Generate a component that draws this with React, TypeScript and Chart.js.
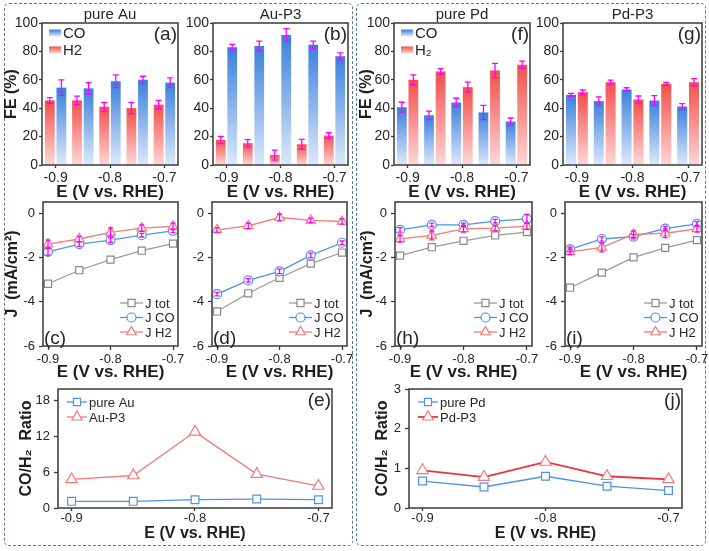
import React, { useEffect, useRef } from 'react';
import { Chart, registerables } from 'chart.js';

Chart.register(...registerables);

const FONT = '"Liberation Sans", Arial, Helvetica, sans-serif';
const AXIS = '#3a3a3a';
const TEXT = '#262626';
Chart.defaults.font.family = FONT;
Chart.defaults.color = TEXT;

// ---------------- data ----------------
const potentials = [-0.9, -0.85, -0.8, -0.75, -0.7];
const potentialLabels = ['-0.9', '-0.85', '-0.8', '-0.75', '-0.7'];
const xMajorLabels = ['-0.9', '-0.8', '-0.7'];
const xMajorTicks = [-0.9, -0.8, -0.7];
const feTicks = [0, 20, 40, 60, 80, 100];
const jTicks = [-6, -4, -2, 0];
const auRatioTicks = [0, 6, 12, 18];
const pdRatioTicks = [0, 1, 2, 3];

// (a) pure Au – Faradaic efficiency (%)
const pureAuCO = [54.5, 54, 59, 60, 58];
const pureAuCOErr = [5.5, 4, 4.5, 2.5, 3.3];
const pureAuH2 = [45.5, 45.5, 41, 40, 42.5];
const pureAuH2Err = [2, 3, 3, 4, 3];
// (b) Au-P3
const auP3CO = [83, 83.8, 91.5, 84.7, 76.5];
const auP3COErr = [2, 3.5, 4.5, 2.5, 2.5];
const auP3H2 = [17.6, 15.3, 7, 14.6, 20.7];
const auP3H2Err = [2.5, 2.5, 3.5, 3.5, 2];
// (f) pure Pd
const purePdCO = [40.7, 35, 44, 37, 30.6];
const purePdCOErr = [3.5, 3, 3, 5, 2.5];
const purePdH2 = [60, 65.9, 54.8, 66.6, 70.6];
const purePdH2Err = [3.5, 2, 3.5, 5, 2.5];
// (g) Pd-P3
const pdP3CO = [49.4, 45, 53.2, 45.4, 41.2];
const pdP3COErr = [1, 3, 1.2, 3.5, 2];
const pdP3H2 = [51.3, 58.3, 46.1, 57.1, 58.3];
const pdP3H2Err = [1.5, 1.5, 2.5, 1, 2.5];

// (c) pure Au – current density (mA/cm2)
const cJtot = [-3.19, -2.58, -2.1, -1.7, -1.38];
const cJco = [-1.75, -1.4, -1.22, -1.0, -0.8];
const cJcoErr = [0.15, 0.1, 0.1, 0.08, 0.08];
const cJh2 = [-1.4, -1.17, -0.87, -0.68, -0.6];
const cJh2Err = [0.18, 0.12, 0.2, 0.15, 0.15];
// (d) Au-P3
const dJtot = [-4.44, -3.62, -2.92, -2.28, -1.78];
const dJco = [-3.66, -3.04, -2.63, -1.91, -1.34];
const dJcoErr = [0.08, 0.08, 0.1, 0.1, 0.08];
const dJh2 = [-0.76, -0.58, -0.2, -0.33, -0.38];
const dJh2Err = [0.1, 0.12, 0.15, 0.1, 0.12];
// (h) pure Pd
const hJtot = [-1.92, -1.54, -1.25, -1.01, -0.86];
const hJco = [-0.76, -0.53, -0.53, -0.36, -0.26];
const hJcoErr = [0.1, 0.08, 0.08, 0.08, 0.2];
const hJh2 = [-1.16, -1.01, -0.71, -0.68, -0.59];
const hJh2Err = [0.15, 0.2, 0.15, 0.12, 0.15];
// (i) Pd-P3
const iJtot = [-3.37, -2.69, -2.0, -1.57, -1.22];
const iJco = [-1.64, -1.17, -1.06, -0.7, -0.49];
const iJcoErr = [0.1, 0.1, 0.1, 0.1, 0.1];
const iJh2 = [-1.75, -1.55, -0.96, -0.91, -0.71];
const iJh2Err = [0.12, 0.2, 0.15, 0.2, 0.15];

// (e) CO/H2 ratio, Au
const pureAuRatio = [1.12, 1.12, 1.4, 1.5, 1.4];
const auP3Ratio = [4.8, 5.46, 12.8, 5.7, 3.7];
// (j) CO/H2 ratio, Pd
const purePdRatio = [0.68, 0.53, 0.8, 0.55, 0.44];
const pdP3Ratio = [0.95, 0.78, 1.16, 0.8, 0.72];

// ---------------- styles ----------------
const CO_DARK = '#3a80dc';
const CO_LIGHT = '#dde9fb';
const H2_DARK = '#f24f4a';
const H2_LIGHT = '#fdd7d7';
const GRAY_LINE = '#9b9b9b';
const GRAY_PT = '#8a8a8a';
const BLUE_LINE = '#4f93e3';
const RED_LINE = '#f27a7a';
const DEEP_RED = '#e8343a';
const ERR = '#ff00ff';

type Geo = { cl: number; ct: number; cr: number; cb: number; L: number; T: number; R: number; B: number };

const xy = (arr: number[]) => potentials.map((x, i) => ({ x, y: arr[i] }));

function barGradient(dark: string, light: string) {
  return (c: any) => {
    const chart = c.chart;
    if (!chart.chartArea || c.raw === undefined || c.raw === null) return dark;
    const ys = chart.scales.y;
    if (!ys) return dark;
    const top = ys.getPixelForValue(c.raw);
    const base = ys.getPixelForValue(0);
    if (!isFinite(top) || !isFinite(base) || Math.abs(base - top) < 1) return dark;
    const g = chart.ctx.createLinearGradient(0, top, 0, base);
    g.addColorStop(0, dark);
    g.addColorStop(1, light);
    return g;
  };
}

const errorBarPlugin = {
  id: 'errbars',
  afterDatasetsDraw(chart: any) {
    const ctx = chart.ctx;
    const ys = chart.scales.y;
    chart.data.datasets.forEach((ds: any, di: number) => {
      if (!ds.errors) return;
      const meta = chart.getDatasetMeta(di);
      ctx.save();
      ctx.strokeStyle = ERR;
      ctx.lineWidth = 1.3;
      meta.data.forEach((el: any, i: number) => {
        const d = ds.data[i];
        const v = typeof d === 'number' ? d : d.y;
        const e = ds.errors[i];
        const x = el.x;
        const y1 = ys.getPixelForValue(v + e);
        const y2 = ys.getPixelForValue(v - e);
        const cap = ds.capWidth ?? 3;
        ctx.beginPath();
        ctx.moveTo(x, y1);
        ctx.lineTo(x, y2);
        ctx.moveTo(x - cap, y1);
        ctx.lineTo(x + cap, y1);
        ctx.moveTo(x - cap, y2);
        ctx.lineTo(x + cap, y2);
        ctx.stroke();
      });
      ctx.restore();
    });
  },
};

function drawMarker(ctx: any, style: string, x: number, y: number, r: number) {
  ctx.beginPath();
  if (style === 'rect') {
    const s = r / Math.SQRT2;
    ctx.rect(x - s, y - s, 2 * s, 2 * s);
  } else if (style === 'circle') {
    ctx.arc(x, y, r, 0, Math.PI * 2);
  } else {
    ctx.moveTo(x, y - r);
    ctx.lineTo(x + 0.866 * r, y + 0.5 * r);
    ctx.lineTo(x - 0.866 * r, y + 0.5 * r);
    ctx.closePath();
  }
  ctx.fill();
  ctx.stroke();
}

type LegendItem = { text: string; color: string; marker: string; markerColor: string; r: number; width: number; dark?: string; light?: string };
type DecorSpec = {
  title?: string;
  label: string;
  labelPos: 'tr' | 'bl';
  legendKind: 'bar' | 'line-br' | 'line-tl' | 'none';
  items: LegendItem[];
};

function decorPlugin(d: DecorSpec) {
  return {
    id: 'decor',
    afterDraw(chart: any) {
      const ctx = chart.ctx;
      const a = chart.chartArea;
      ctx.save();
      // frame
      ctx.strokeStyle = AXIS;
      ctx.lineWidth = 1.5;
      ctx.strokeRect(a.left, a.top, a.right - a.left, a.bottom - a.top);
      ctx.fillStyle = TEXT;
      // title
      if (d.title) {
        ctx.font = `15px ${FONT}`;
        ctx.textAlign = 'center';
        ctx.textBaseline = 'alphabetic';
        ctx.fillText(d.title, (a.left + a.right) / 2, a.top - 4);
      }
      // panel label
      ctx.font = `19px ${FONT}`;
      if (d.labelPos === 'tr') {
        ctx.textAlign = 'right';
        ctx.textBaseline = 'top';
        ctx.fillText(d.label, a.right - 1, a.top + 2);
      } else {
        ctx.textAlign = 'left';
        ctx.textBaseline = 'alphabetic';
        ctx.fillText(d.label, a.left + 1, a.bottom - 2);
      }
      // legend
      if (d.legendKind === 'bar') {
        ctx.font = `15px ${FONT}`;
        ctx.textAlign = 'left';
        ctx.textBaseline = 'middle';
        d.items.forEach((it, k) => {
          const y = a.top + 10 + k * 17;
          const x0 = a.left + 7;
          const g = ctx.createLinearGradient(0, y - 3.5, 0, y + 3.5);
          g.addColorStop(0, it.dark);
          g.addColorStop(1, it.light);
          ctx.fillStyle = g;
          ctx.fillRect(x0, y - 3.5, 12, 7);
          ctx.fillStyle = TEXT;
          ctx.fillText(it.text, a.left + 21, y + 1);
        });
      } else if (d.legendKind !== 'none') {
        const br = d.legendKind === 'line-br';
        ctx.font = `13px ${FONT}`;
        ctx.textAlign = 'left';
        ctx.textBaseline = 'middle';
        d.items.forEach((it, k) => {
          const y = br ? a.bottom - 43 + k * 14.5 : a.top + 13 + k * 15;
          const x0 = br ? a.right - 58 : a.left + 9;
          const len = br ? 23 : 20;
          ctx.strokeStyle = it.color;
          ctx.lineWidth = it.width;
          ctx.beginPath();
          ctx.moveTo(x0, y);
          ctx.lineTo(x0 + len, y);
          ctx.stroke();
          ctx.fillStyle = '#ffffff';
          ctx.strokeStyle = it.markerColor;
          ctx.lineWidth = 1.2;
          drawMarker(ctx, it.marker, x0 + len / 2, y, it.r);
          ctx.fillStyle = TEXT;
          ctx.fillText(it.text, x0 + len + 2, y + 1);
        });
      }
      ctx.restore();
    },
  };
}

function tickGrid() {
  return {
    display: true,
    drawOnChartArea: false,
    drawTicks: true,
    tickLength: 3,
    tickColor: AXIS,
    tickWidth: 1.3,
    color: AXIS,
  };
}

function xTitle(size: number) {
  return { display: true, text: 'E (V vs. RHE)', color: '#1e1e1e', font: { size, weight: 'bold' }, padding: 0 };
}

function yTitle(text?: string) {
  return text
    ? { display: true, text, color: '#1e1e1e', font: { size: 16, weight: 'bold' }, padding: 0 }
    : { display: false };
}

function baseOptions(g: Geo) {
  return {
    responsive: false,
    animation: false,
    events: [],
    layout: { padding: { top: g.T - g.ct, right: g.cr - g.R, left: 0, bottom: 0 } },
    plugins: { legend: { display: false }, tooltip: { enabled: false }, title: { display: false } },
  };
}

type BarSpec = {
  g: Geo; first: 'H2' | 'CO'; co: number[]; coErr: number[]; h2: number[]; h2Err: number[];
  title: string; label: string; h2Text: string; yTitle?: string; legend: boolean;
};

function barConfig(s: BarSpec): any {
  const g = s.g;
  const coDs = {
    label: 'CO', data: s.co, errors: s.coErr, capWidth: 3,
    backgroundColor: barGradient(CO_DARK, CO_LIGHT), borderWidth: 0,
    categoryPercentage: 0.85, barPercentage: 0.85,
  };
  const h2Ds = {
    label: 'H2', data: s.h2, errors: s.h2Err, capWidth: 3,
    backgroundColor: barGradient(H2_DARK, H2_LIGHT), borderWidth: 0,
    categoryPercentage: 0.85, barPercentage: 0.85,
  };
  return {
    type: 'bar',
    data: { labels: potentialLabels, datasets: s.first === 'H2' ? [h2Ds, coDs] : [coDs, h2Ds] },
    options: {
      ...baseOptions(g),
      scales: {
        x: {
          type: 'category', offset: true,
          grid: { ...tickGrid(), offset: false, tickColor: (c: any) => (c.index % 2 === 0 ? AXIS : 'rgba(0,0,0,0)') },
          border: { display: false },
          ticks: {
            autoSkip: false, maxRotation: 0, minRotation: 0, padding: 2, color: TEXT, font: { size: 14 },
            callback: (_v: any, i: number) => (xMajorLabels.includes(potentialLabels[i]) ? potentialLabels[i] : ''),
          },
          title: xTitle(17),
          afterFit: (sc: any) => { sc.height = g.cb - g.B; },
        },
        y: {
          min: 0, max: 100,
          afterBuildTicks: (sc: any) => { sc.ticks = feTicks.map((v) => ({ value: v })); },
          grid: tickGrid(),
          border: { display: false },
          ticks: { padding: 1, color: TEXT, font: { size: 14 }, callback: (v: any) => String(v) },
          title: yTitle(s.yTitle),
          afterFit: (sc: any) => { sc.width = g.L - g.cl; },
        },
      },
    },
    plugins: [errorBarPlugin, decorPlugin({
      title: s.title, label: s.label, labelPos: 'tr', legendKind: s.legend ? 'bar' : 'none',
      items: [
        { text: 'CO', dark: CO_DARK, light: CO_LIGHT, color: '', marker: '', markerColor: '', r: 0, width: 0 },
        { text: s.h2Text, dark: H2_DARK, light: H2_LIGHT, color: '', marker: '', markerColor: '', r: 0, width: 0 },
      ],
    })],
  };
}

type LineSpec = {
  g: Geo; tot: number[]; co: number[]; coErr: number[]; h2: number[]; h2Err: number[]; label: string; yTitle?: string;
};

function lineConfig(s: LineSpec): any {
  const g = s.g;
  return {
    type: 'line',
    data: {
      datasets: [
        { label: 'J H2', data: xy(s.h2), errors: s.h2Err, capWidth: 2.5, borderColor: RED_LINE, borderWidth: 1.3,
          pointStyle: 'triangle', pointRadius: 5.5, pointBorderColor: RED_LINE, pointBackgroundColor: '#ffffff', pointBorderWidth: 1.2 },
        { label: 'J CO', data: xy(s.co), errors: s.coErr, capWidth: 2.5, borderColor: BLUE_LINE, borderWidth: 1.3,
          pointStyle: 'circle', pointRadius: 4.5, pointBorderColor: BLUE_LINE, pointBackgroundColor: '#ffffff', pointBorderWidth: 1.2 },
        { label: 'J tot', data: xy(s.tot), borderColor: GRAY_LINE, borderWidth: 1.3,
          pointStyle: 'rect', pointRadius: 5, pointBorderColor: GRAY_PT, pointBackgroundColor: '#ffffff', pointBorderWidth: 1.2 },
      ],
    },
    options: {
      ...baseOptions(g),
      scales: {
        x: {
          type: 'linear', min: -0.908, max: -0.692,
          afterBuildTicks: (sc: any) => { sc.ticks = xMajorTicks.map((v) => ({ value: v })); },
          grid: { ...tickGrid(), tickLength: 4 },
          border: { display: false },
          ticks: { autoSkip: false, maxRotation: 0, padding: 2, color: TEXT, font: { size: 13 }, callback: (v: any) => Number(v).toFixed(1) },
          title: xTitle(17),
          afterFit: (sc: any) => { sc.height = g.cb - g.B; },
        },
        y: {
          min: -6, max: 0.5,
          afterBuildTicks: (sc: any) => { sc.ticks = jTicks.map((v) => ({ value: v })); },
          grid: { ...tickGrid(), tickLength: 4 },
          border: { display: false },
          ticks: { padding: 4, color: TEXT, font: { size: 13 }, callback: (v: any) => String(v) },
          title: yTitle(s.yTitle),
          afterFit: (sc: any) => { sc.width = g.L - g.cl; },
        },
      },
    },
    plugins: [errorBarPlugin, decorPlugin({
      label: s.label, labelPos: 'bl', legendKind: 'line-br',
      items: [
        { text: 'J tot', color: GRAY_LINE, marker: 'rect', markerColor: GRAY_PT, r: 5, width: 1.3 },
        { text: 'J CO', color: BLUE_LINE, marker: 'circle', markerColor: BLUE_LINE, r: 4.5, width: 1.3 },
        { text: 'J H2', color: RED_LINE, marker: 'triangle', markerColor: RED_LINE, r: 5.5, width: 1.3 },
      ],
    })],
  };
}

type RatioSpec = {
  g: Geo; pure: number[]; p3: number[]; pureText: string; p3Text: string; p3Line: string; p3Width: number;
  max: number; ticks: number[]; label: string;
};

function ratioConfig(s: RatioSpec): any {
  const g = s.g;
  return {
    type: 'line',
    data: {
      datasets: [
        { label: s.pureText, data: xy(s.pure), borderColor: BLUE_LINE, borderWidth: 1.3,
          pointStyle: 'rect', pointRadius: 5.5, pointBorderColor: BLUE_LINE, pointBackgroundColor: '#ffffff', pointBorderWidth: 1.2 },
        { label: s.p3Text, data: xy(s.p3), borderColor: s.p3Line, borderWidth: s.p3Width,
          pointStyle: 'triangle', pointRadius: 6.5, pointBorderColor: RED_LINE, pointBackgroundColor: '#ffffff', pointBorderWidth: 1.2 },
      ],
    },
    options: {
      ...baseOptions(g),
      scales: {
        x: {
          type: 'linear', min: -0.911, max: -0.689,
          afterBuildTicks: (sc: any) => { sc.ticks = xMajorTicks.map((v) => ({ value: v })); },
          grid: tickGrid(),
          border: { display: false },
          ticks: { autoSkip: false, maxRotation: 0, padding: 0, color: TEXT, font: { size: 13 }, callback: (v: any) => Number(v).toFixed(1) },
          title: xTitle(16),
          afterFit: (sc: any) => { sc.height = g.cb - g.B; },
        },
        y: {
          min: 0, max: s.max,
          afterBuildTicks: (sc: any) => { sc.ticks = s.ticks.map((v) => ({ value: v })); },
          grid: { ...tickGrid(), tickLength: 4 },
          border: { display: false },
          ticks: { padding: 4, color: TEXT, font: { size: 13 }, callback: (v: any) => String(v) },
          title: yTitle('CO/H\u2082  Ratio'),
          afterFit: (sc: any) => { sc.width = g.L - g.cl; },
        },
      },
    },
    plugins: [decorPlugin({
      label: s.label, labelPos: 'tr', legendKind: 'line-tl',
      items: [
        { text: s.pureText, color: BLUE_LINE, marker: 'rect', markerColor: BLUE_LINE, r: 5, width: 1.3 },
        { text: s.p3Text, color: s.p3Line, marker: 'triangle', markerColor: RED_LINE, r: 6, width: s.p3Width },
      ],
    })],
  };
}

// ---------------- geometry ----------------
const geoA: Geo = { cl: 2, ct: 0, cr: 190, cb: 203, L: 42, T: 23, R: 178, B: 165 };
const geoB: Geo = { cl: 173, ct: 0, cr: 360, cb: 203, L: 213, T: 23, R: 348, B: 165 };
const geoF: Geo = { cl: 357, ct: 0, cr: 542, cb: 203, L: 394, T: 23, R: 530, B: 165 };
const geoG: Geo = { cl: 523, ct: 0, cr: 714, cb: 203, L: 563, T: 23, R: 702, B: 165 };
const geoC: Geo = { cl: 3, ct: 188, cr: 192, cb: 383, L: 43, T: 202, R: 178, B: 346 };
const geoD: Geo = { cl: 172, ct: 188, cr: 361, cb: 383, L: 212, T: 202, R: 347, B: 346 };
const geoH: Geo = { cl: 358, ct: 188, cr: 546, cb: 383, L: 395, T: 202, R: 532, B: 346 };
const geoI: Geo = { cl: 525, ct: 188, cr: 716, cb: 383, L: 565, T: 202, R: 702, B: 346 };
const geoE: Geo = { cl: 17, ct: 376, cr: 346, cb: 543, L: 58, T: 389, R: 332, B: 508 };
const geoJ: Geo = { cl: 373, ct: 376, cr: 696, cb: 543, L: 409, T: 389, R: 682, B: 508 };

function ChartCanvas({ g, make }: { g: Geo; make: () => any }) {
  const ref = useRef<HTMLCanvasElement>(null);
  useEffect(() => {
    if (!ref.current) return;
    const chart = new Chart(ref.current, make());
    return () => chart.destroy();
  }, []);
  const w = g.cr - g.cl;
  const h = g.cb - g.ct;
  return (
    <canvas
      ref={ref}
      width={w}
      height={h}
      style={{ position: 'absolute', left: g.cl, top: g.ct, width: w, height: h }}
    />
  );
}

export default function App() {
  useEffect(() => {
    document.body.style.margin = '0';
  }, []);
  const dash = '1.5px dashed #5f7598';
  return (
    <div style={{ position: 'absolute', left: 0, top: 0, width: 709, height: 551, overflow: 'hidden', background: '#ffffff' }}>
      <div style={{ position: 'absolute', left: 4, top: 3, width: 347, height: 541, border: dash, borderRadius: 5 }} />
      <div style={{ position: 'absolute', left: 356, top: 3, width: 348, height: 541, border: dash, borderRadius: 5 }} />

      <ChartCanvas g={geoA} make={() => barConfig({ g: geoA, first: 'H2', co: pureAuCO, coErr: pureAuCOErr, h2: pureAuH2, h2Err: pureAuH2Err, title: 'pure Au', label: '(a)', h2Text: 'H2', yTitle: 'FE (%)', legend: true })} />
      <ChartCanvas g={geoB} make={() => barConfig({ g: geoB, first: 'H2', co: auP3CO, coErr: auP3COErr, h2: auP3H2, h2Err: auP3H2Err, title: 'Au-P3', label: '(b)', h2Text: 'H2', legend: false })} />
      <ChartCanvas g={geoF} make={() => barConfig({ g: geoF, first: 'CO', co: purePdCO, coErr: purePdCOErr, h2: purePdH2, h2Err: purePdH2Err, title: 'pure Pd', label: '(f)', h2Text: 'H\u2082', yTitle: 'FE (%)', legend: true })} />
      <ChartCanvas g={geoG} make={() => barConfig({ g: geoG, first: 'CO', co: pdP3CO, coErr: pdP3COErr, h2: pdP3H2, h2Err: pdP3H2Err, title: 'Pd-P3', label: '(g)', h2Text: 'H\u2082', legend: false })} />

      <ChartCanvas g={geoC} make={() => lineConfig({ g: geoC, tot: cJtot, co: cJco, coErr: cJcoErr, h2: cJh2, h2Err: cJh2Err, label: '(c)', yTitle: 'J  (mA/cm\u00b2)' })} />
      <ChartCanvas g={geoD} make={() => lineConfig({ g: geoD, tot: dJtot, co: dJco, coErr: dJcoErr, h2: dJh2, h2Err: dJh2Err, label: '(d)' })} />
      <ChartCanvas g={geoH} make={() => lineConfig({ g: geoH, tot: hJtot, co: hJco, coErr: hJcoErr, h2: hJh2, h2Err: hJh2Err, label: '(h)', yTitle: 'J  (mA/cm\u00b2)' })} />
      <ChartCanvas g={geoI} make={() => lineConfig({ g: geoI, tot: iJtot, co: iJco, coErr: iJcoErr, h2: iJh2, h2Err: iJh2Err, label: '(i)' })} />

      <ChartCanvas g={geoE} make={() => ratioConfig({ g: geoE, pure: pureAuRatio, p3: auP3Ratio, pureText: 'pure Au', p3Text: 'Au-P3', p3Line: RED_LINE, p3Width: 1.3, max: 20, ticks: auRatioTicks, label: '(e)' })} />
      <ChartCanvas g={geoJ} make={() => ratioConfig({ g: geoJ, pure: purePdRatio, p3: pdP3Ratio, pureText: 'pure Pd', p3Text: 'Pd-P3', p3Line: DEEP_RED, p3Width: 1.8, max: 3, ticks: pdRatioTicks, label: '(j)' })} />
    </div>
  );
}
